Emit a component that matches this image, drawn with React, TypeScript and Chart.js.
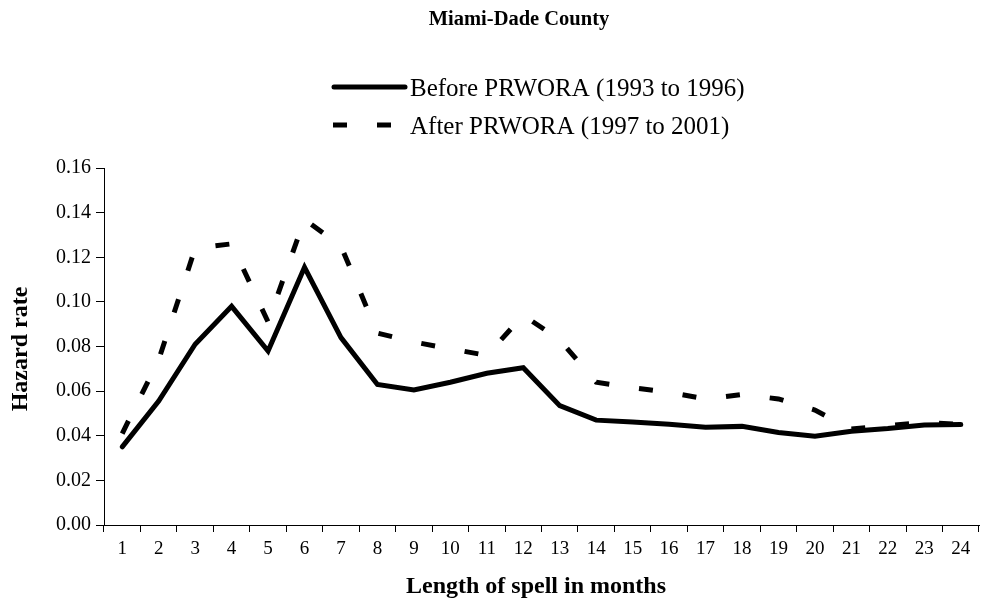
import React, { useEffect, useRef } from "react";
import { Chart, registerables } from "chart.js";

Chart.register(...registerables);

const months = ["1","2","3","4","5","6","7","8","9","10","11","12","13","14","15","16","17","18","19","20","21","22","23","24"];
const beforePRWORA = [0.035, 0.0555, 0.081, 0.098, 0.078, 0.1155, 0.084, 0.063, 0.0605, 0.064, 0.068, 0.0705, 0.0535, 0.047, 0.0462, 0.0452, 0.0438, 0.0442, 0.0415, 0.0398, 0.042, 0.0432, 0.0448, 0.045];
const afterPRWORA = [0.041, 0.074, 0.124, 0.126, 0.091, 0.137, 0.125, 0.086, 0.082, 0.079, 0.076, 0.094, 0.083, 0.064, 0.0615, 0.0595, 0.0565, 0.0585, 0.0565, 0.0515, 0.043, 0.0445, 0.046, 0.045];
const seriesLabels = ["Before PRWORA (1993 to 1996)", "After PRWORA (1997 to 2001)"];
const chartTitle = "Miami-Dade County";
const xTitle = "Length of spell in months";
const yTitle = "Hazard rate";

const SERIF = '"Liberation Serif", "Times New Roman", serif';

const decorPlugin = {
  id: "decor",
  afterDraw(chart: any) {
    const ctx = chart.ctx;
    ctx.save();
    ctx.fillStyle = "#000";
    ctx.textBaseline = "middle";
    // title
    ctx.font = `bold 20.5px ${SERIF}`;
    ctx.textAlign = "center";
    ctx.fillText(chartTitle, 519, 20);
    // legend
    ctx.font = `25px ${SERIF}`;
    ctx.textAlign = "left";
    const ds = chart.data.datasets;
    // solid
    ctx.strokeStyle = ds[0].borderColor;
    ctx.lineWidth = 5;
    ctx.lineCap = "round";
    ctx.beginPath();
    ctx.moveTo(334, 87);
    ctx.lineTo(405, 87);
    ctx.stroke();
    ctx.fillText(ds[0].label, 410, 89);
    // dashed
    ctx.lineCap = "butt";
    ctx.setLineDash(ds[1].borderDash);
    ctx.beginPath();
    ctx.moveTo(333, 125);
    ctx.lineTo(405, 125);
    ctx.stroke();
    ctx.setLineDash([]);
    ctx.fillText(ds[1].label, 410, 127);
    // axis titles
    ctx.font = `bold 24px ${SERIF}`;
    ctx.textAlign = "center";
    ctx.fillText(xTitle, 536, 587);
    ctx.translate(21, 349);
    ctx.rotate(-Math.PI / 2);
    ctx.fillText(yTitle, 0, 0);
    ctx.restore();
  },
};

export default function App() {
  const ref = useRef<HTMLCanvasElement>(null);
  useEffect(() => {
    if (!ref.current) return;
    const chart = new Chart(ref.current, {
      type: "line",
      data: {
        labels: months,
        datasets: [
          {
            label: seriesLabels[0],
            data: beforePRWORA,
            borderColor: "#000",
            borderWidth: 5,
            borderCapStyle: "round",
            borderJoinStyle: "miter",
            pointRadius: 0,
            tension: 0,
            fill: false,
          },
          {
            label: seriesLabels[1],
            data: afterPRWORA,
            borderColor: "#000",
            borderWidth: 5,
            borderDash: [14, 30],
            borderCapStyle: "butt",
            pointRadius: 0,
            tension: 0,
            fill: false,
          },
        ],
      },
      options: {
        responsive: false,
        animation: false,
        devicePixelRatio: 1,
        layout: { padding: { left: 0, right: 3, top: 168, bottom: 0 } },
        plugins: {
          legend: { display: false },
          title: { display: false },
          tooltip: { enabled: false },
        },
        scales: {
          x: {
            type: "category",
            offset: true,
            grid: { drawOnChartArea: false, offset: true, tickLength: 7, color: "#000", lineWidth: 1 },
            border: { color: "#000", width: 1 },
            ticks: { color: "#000", font: { family: SERIF, size: 19 }, padding: 6, maxRotation: 0, autoSkip: false },
            afterFit(scale: any) { scale.height = 615 - 525; },
          },
          y: {
            min: 0,
            max: 0.16,
            grid: { drawOnChartArea: false, tickLength: 8, color: "#000", lineWidth: 1 },
            border: { color: "#000", width: 1 },
            ticks: {
              stepSize: 0.02,
              color: "#000",
              font: { family: SERIF, size: 20 },
              padding: 5,
              callback: (v: any) => Number(v).toFixed(2),
            },
            afterFit(scale: any) { scale.width = 104; },
          },
        },
      },
      plugins: [decorPlugin],
    } as any);
    return () => chart.destroy();
  }, []);
  return (
    <div style={{ position: "absolute", left: 0, top: 0, width: 982, height: 615, background: "#fff" }}>
      <canvas ref={ref} width={982} height={615} style={{ width: 982, height: 615 }} />
    </div>
  );
}
